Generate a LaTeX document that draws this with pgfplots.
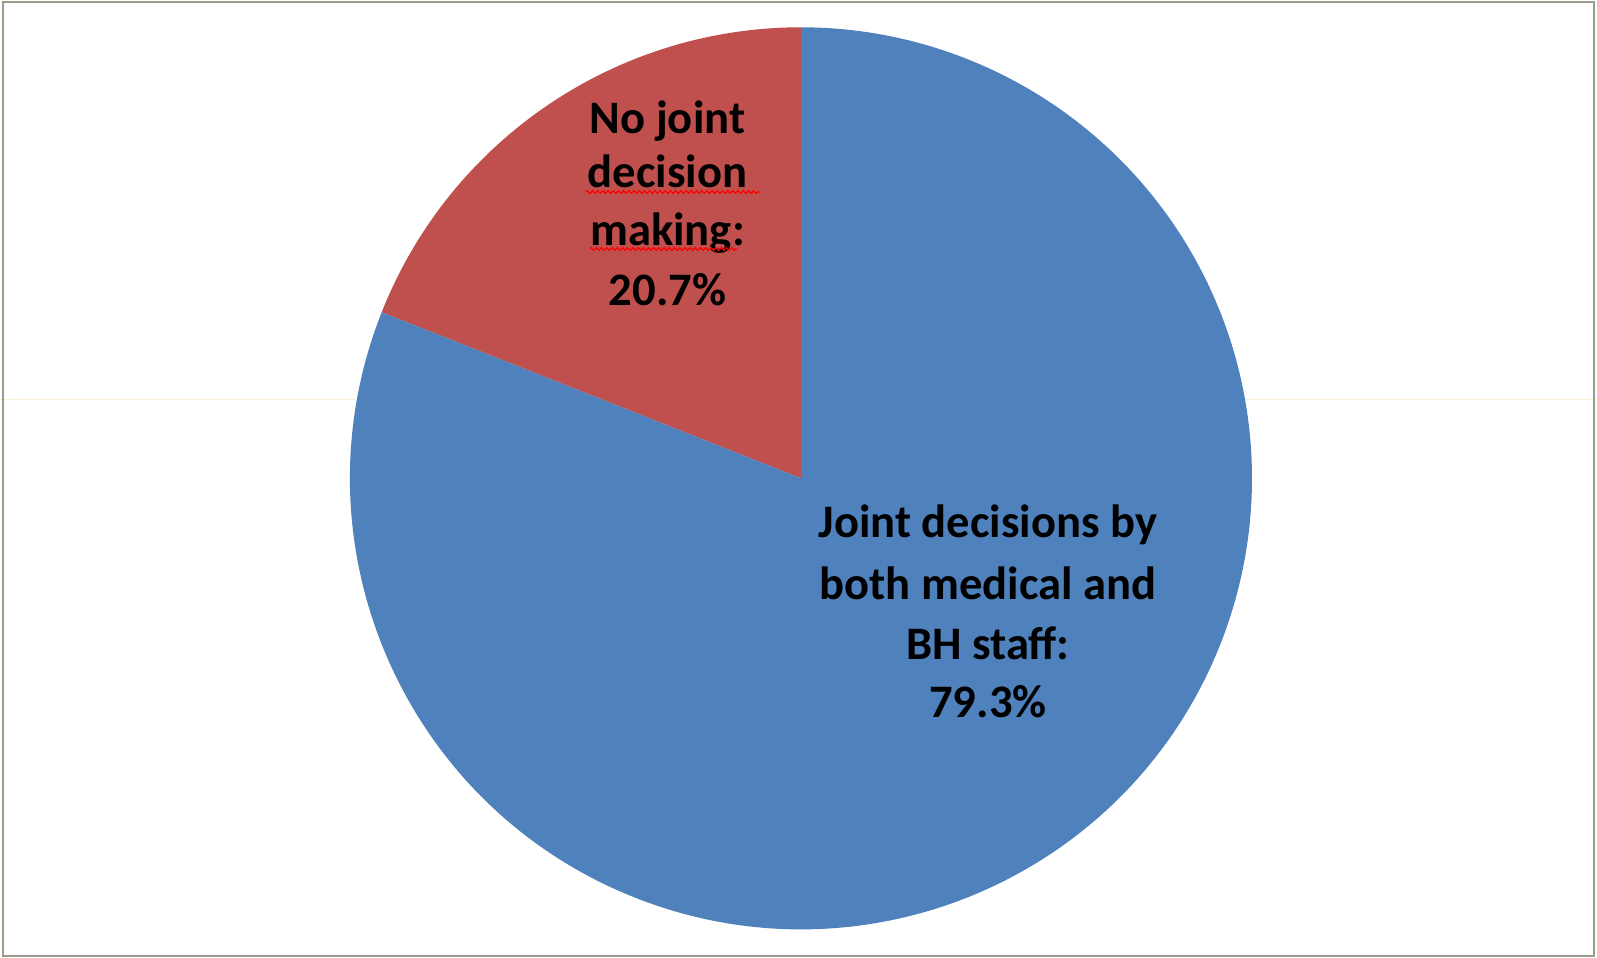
\documentclass[border=0pt]{standalone}
\usepackage{pgfplots}
\usepackage{pgfplotstable}
\pgfplotsset{compat=1.18}
\usepackage{fontspec}
\setmainfont{Carlito}
\usetikzlibrary{decorations.pathmorphing}
\definecolor{pieblue}{HTML}{4F81BD}
\definecolor{piered}{HTML}{C0504D}
\definecolor{frame}{RGB}{157,155,140}
\definecolor{faint}{HTML}{FAF1D2}
\pgfplotstableread{
slice share
red 19.0
blue 81.0
}\piedata
\begin{document}
\begin{tikzpicture}
\pgfplotstablegetelem{0}{share}\of\piedata \let\sred\pgfplotsretval
\pgfplotstablegetelem{1}{share}\of\piedata \let\sblue\pgfplotsretval
\pgfmathsetmacro\aend{90+3.6*\sred}
\pgfmathsetmacro\bend{\aend+3.6*\sblue}
\begin{axis}[width=798.5pt,height=479pt,scale only axis,hide axis,clip=false,
  xmin=0,xmax=1597,ymin=0,ymax=958]
\path[fill=white] (axis cs:0,0) rectangle (axis cs:1597,958);
\draw[faint,line width=0.5pt] (axis cs:0,558) -- (axis cs:1597,558);
\fill[piered] (axis cs:801,479.7) -- (axis cs:801,930.7) arc[start angle=90,end angle=\aend,radius=225.5pt] -- cycle;
\fill[pieblue] (axis cs:801,479.7) -- (axis cs:{801+451*cos(\aend)},{479.7+451*sin(\aend)}) arc[start angle=\aend,end angle=\bend,radius=225.5pt] -- cycle;
\draw[frame,line width=1pt] (axis cs:3,2) rectangle (axis cs:1594,956);
\tikzset{lbl/.style={anchor=base,inner sep=0pt,font=\bfseries\fontsize{23.3}{28}\selectfont}}
\node[lbl] at (axis cs:667.5,824) {No joint};
\node[lbl] at (axis cs:667.5,770) {decision};
\node[lbl] at (axis cs:667.5,712) {making:};
\node[lbl] at (axis cs:667.5,652) {20.7\%};
\draw[red,line width=0.6pt,decorate,decoration={zigzag,amplitude=0.7pt,segment length=2.6pt}] (axis cs:586,766) -- (axis cs:760,766);
\draw[red,line width=0.6pt,decorate,decoration={zigzag,amplitude=0.7pt,segment length=2.6pt}] (axis cs:590,709) -- (axis cs:737,709);
\node[lbl] at (axis cs:988,420) {Joint decisions by};
\node[lbl] at (axis cs:988,358.5) {both medical and};
\node[lbl] at (axis cs:988,298.5) {BH staff:};
\node[lbl] at (axis cs:988,240) {79.3\%};
\end{axis}
\pgfresetboundingbox
\path (current axis.south west) rectangle (current axis.north east);
\end{tikzpicture}
\end{document}
